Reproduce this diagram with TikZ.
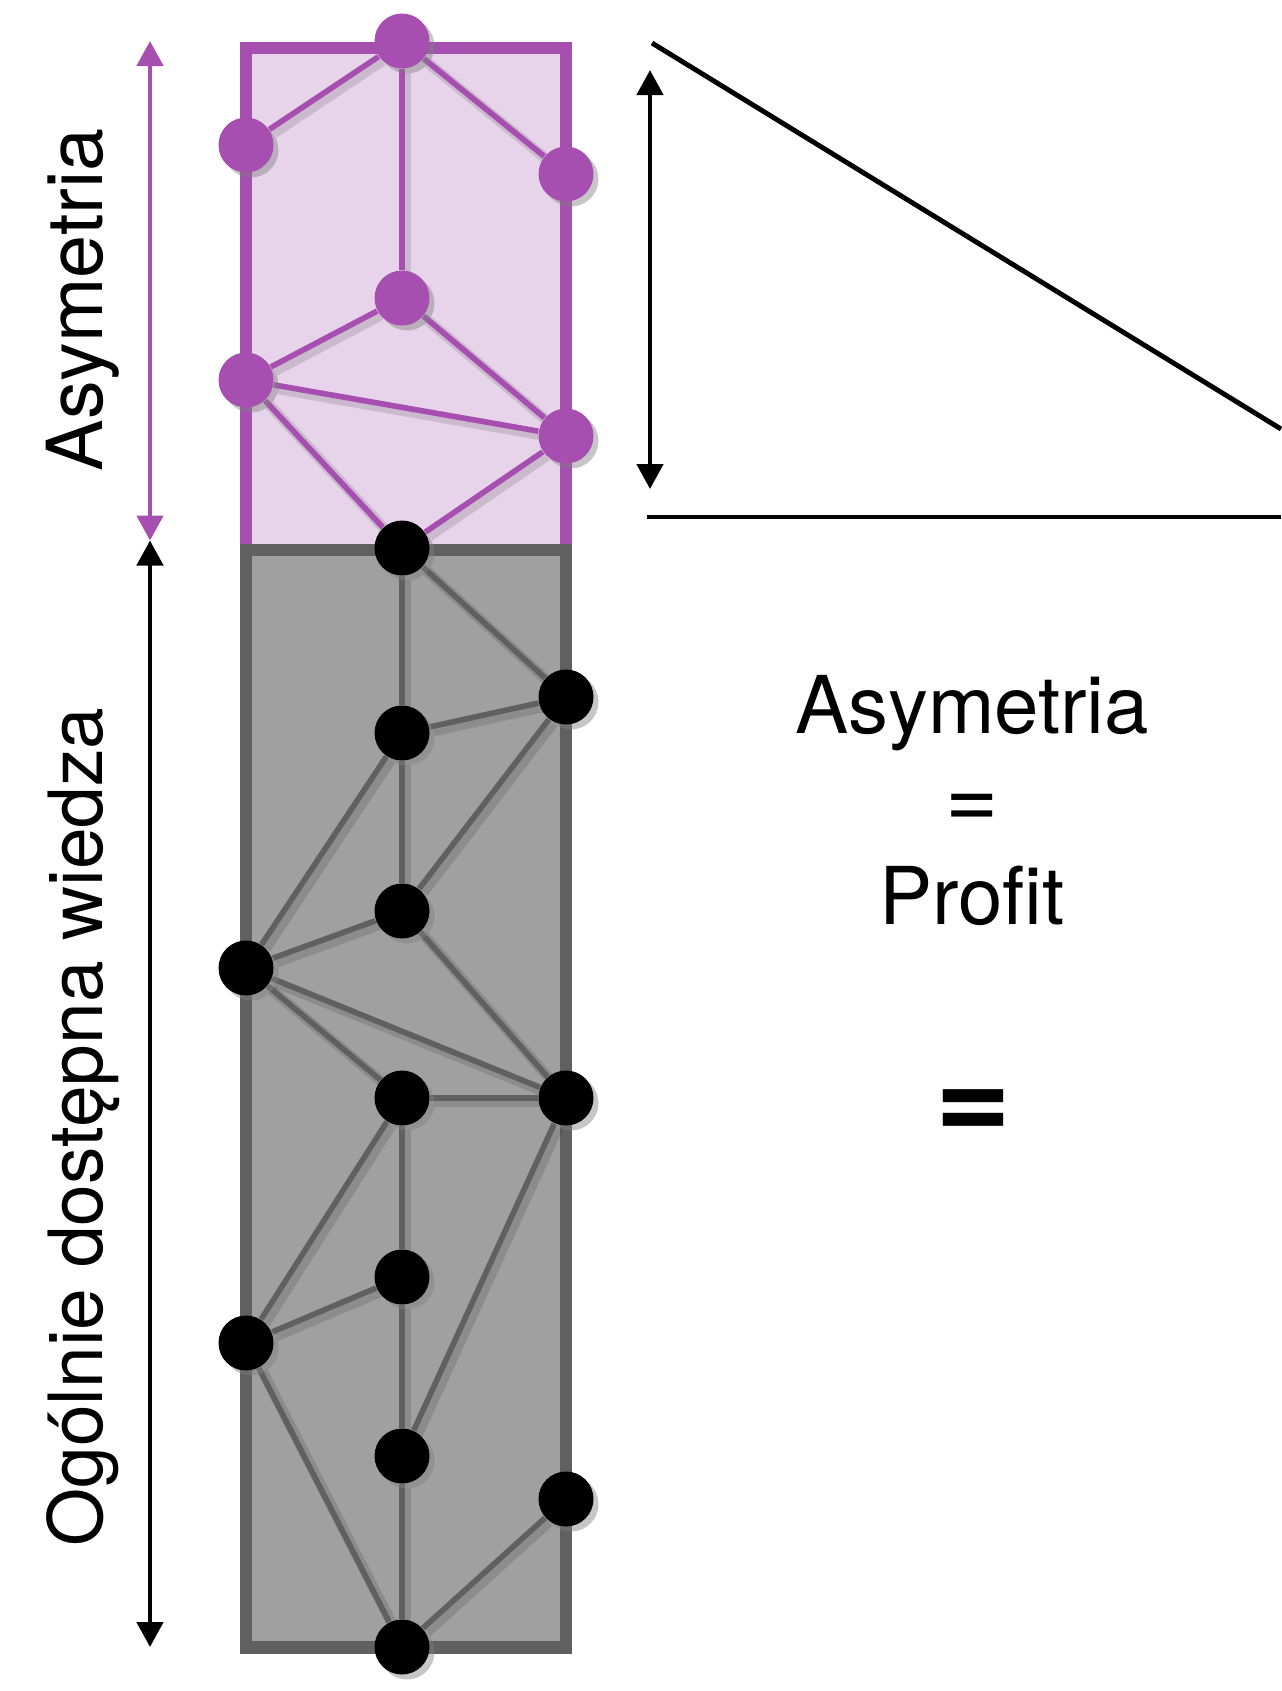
\documentclass[tikz,border=0pt]{standalone}
\usepackage{fontspec}
\setmainfont{TeX Gyre Heros}
\usetikzlibrary{positioning,arrows.meta,shadows}
\definecolor{asymC}{RGB}{166,79,176}
\definecolor{asymFill}{RGB}{232,212,234}
\definecolor{knowC}{RGB}{96,96,96}
\definecolor{knowFill}{RGB}{160,160,160}
\pgfdeclarelayer{panels}
\pgfdeclarelayer{links}
\pgfsetlayers{panels,links,main}
\tikzset{
	panel/.style={line width=3.6pt},
	dot/.style={circle, minimum size=0.55cm, inner sep=0pt,
		drop shadow={shadow xshift=0.05cm, shadow yshift=-0.05cm, opacity=0.45}},
	dotP/.style={dot, fill=asymC},
	dotB/.style={dot, fill=black},
	link/.style={line width=1.6pt,
		preaction={draw, black, opacity=0.12, line width=3pt,
			transform canvas={shift={(0.04,-0.04)}}}},
	span/.style={{Triangle[length=0.25cm,width=0.26cm]}-{Triangle[length=0.25cm,width=0.26cm]},
		line width=1.35pt},
	sidelabel/.style={font=\fontsize{22}{26}\selectfont, rotate=90, anchor=base},
	eqtext/.style={font=\fontsize{22.7}{27}\selectfont, anchor=base},
}

\begin{document}
\begin{tikzpicture}
	\useasboundingbox (0,0) rectangle (12.81,-16.91);
	
	% ================= Nodes: asymmetry part =================
	\foreach \n/\x/\y in {p1/4.02/-0.41, p2/2.46/-1.45, p3/5.66/-1.74,
		p4/4.02/-2.98, p5/2.46/-3.80, p6/5.66/-4.36}
	\node[dotP] (\n) at (\x,\y) {};
	
	% ================= Nodes: public knowledge part =================
	\foreach \n/\x/\y in {b1/4.02/-5.48, b2/5.66/-6.97, b3/4.02/-7.33,
		b4/4.02/-9.11, b5/2.46/-9.68, b6/4.02/-10.98, b7/5.66/-10.98,
		b8/4.02/-12.77, b9/2.46/-13.43, b10/4.02/-14.56, b11/5.66/-14.99,
		b12/4.02/-16.47}
	\node[dotB] (\n) at (\x,\y) {};
	
	% ================= Panels and links =================
	\begin{pgfonlayer}{panels}
		\draw[panel, draw=asymC, fill=asymFill] (2.46,-0.48) rectangle (5.66,-5.50);
		\draw[panel, draw=knowC, fill=knowFill] (2.46,-5.50) rectangle (5.66,-16.475);
	\end{pgfonlayer}
	
	\begin{pgfonlayer}{links}
		\foreach \a/\b in {p1/p2, p1/p3, p1/p4, p4/p5, p4/p6, p5/p6, p5/b1, p6/b1}
		\draw[link, asymC] (\a) -- (\b);
		\foreach \a/\b in {b1/b2, b1/b3, b3/b2, b3/b4, b3/b5, b2/b4, b4/b5,
			b4/b7, b5/b7, b5/b6, b6/b7, b6/b8, b6/b9, b7/b10, b8/b9,
			b8/b10, b10/b12, b9/b12, b11/b12}
		\draw[link, knowC] (\a) -- (\b);
	\end{pgfonlayer}
	
	% ================= Left scale =================
	\coordinate (asymTop) at (1.50,-0.41);
	\coordinate (split) at (1.50,-5.405);
	\coordinate (knowBot) at (1.50,-16.47);
	\draw[span, asymC] (asymTop) -- (split);
	\draw[span, black] (split) -- (knowBot);
	
	\node[sidelabel] (asymLab) at (1.02,-3.00) {Asymetria};
	\node[sidelabel, font=\fontsize{21.3}{26}\selectfont] (knowLab) at (1.02,-11.27)
	{Ogólnie dostępna wiedza};
	
	% ================= Right: slope =================
	\coordinate (gapTop) at (6.50,-0.70);
	\coordinate (gapBot) at (6.50,-4.89);
	\draw[span] (gapTop) -- (gapBot);
	\coordinate (slopeA) at (6.52,-0.43);
	\coordinate (slopeB) at (12.81,-4.29);
	\draw[line width=1.4pt] (slopeA) -- (slopeB);
	\coordinate (baseA) at (6.47,-5.17);
	\coordinate (baseB) at (12.81,-5.17);
	\draw[line width=1.3pt] (baseA) -- (baseB);
	
	% ================= Right: text =================
	\node[eqtext] (asymR) at (9.72,-7.33) {Asymetria};
	\node[eqtext, font=\fontsize{26}{30}\selectfont] (eq1) at (9.72,-8.28) {=};
	\node[eqtext] (profit) at (9.72,-9.24) {Profit};
	\node[eqtext, font=\fontsize{37}{44}\selectfont\bfseries] (eq2) at (9.73,-11.40) {=};
	
\end{tikzpicture}
\end{document}
